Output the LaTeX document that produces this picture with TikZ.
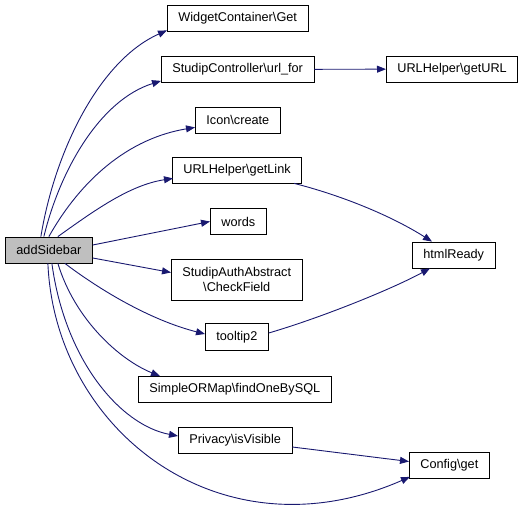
\documentclass[tikz,border=0pt]{standalone}
\usepackage{fontspec}
\setmainfont{Liberation Sans}
\usetikzlibrary{arrows.meta}
\definecolor{calledge}{HTML}{191970}
\definecolor{focus}{HTML}{BFBFBF}

\begin{document}
\begin{tikzpicture}[x=1pt,y=-1pt,>={Triangle[length=9pt,width=7pt]},
    fn/.style={draw=black,line width=0.8pt,fill=white,anchor=west,
      minimum height=26pt,inner xsep=11pt,inner ysep=0pt,
      font=\fontsize{12.7}{14.5}\selectfont,align=center},
    call/.style={->,draw=calledge,line width=0.9pt}]
  \useasboundingbox (0,0) rectangle (528,505);

  \node[fn,fill=focus] (add) at (5,250) {addSidebar};

  \node[fn] (wget) at (167,18) {WidgetContainer\textbackslash Get};
  \node[fn] (ufor) at (161,69.5) {StudipController\textbackslash url\_for};
  \node[fn] (gurl) at (386,69) {URLHelper\textbackslash getURL};
  \node[fn] (icon) at (195,120) {Icon\textbackslash create};
  \node[fn] (glink) at (172,170) {URLHelper\textbackslash getLink};
  \node[fn] (words) at (210,221.5) {words};
  \node[fn,minimum height=41pt] (check) at (171,279.5)
    {StudipAuthAbstract\\\textbackslash CheckField};
  \node[fn,minimum height=27pt] (tip) at (205,337) {tooltip2};
  \node[fn] (find) at (138,389.5) {SimpleORMap\textbackslash findOneBySQL};
  \node[fn] (priv) at (178,440) {Privacy\textbackslash isVisible};
  \node[fn] (cfg) at (409,465.5) {Config\textbackslash get};
  \node[fn] (html) at (412,255) {htmlReady};

  % addSidebar upwards
  \draw[call] ([xshift=-8pt]add.north) .. controls (55,150) and (100,60) .. ([yshift=1pt]wget.south west);
  \draw[call] ([xshift=-5pt]add.north) .. controls (60,170) and (100,100) .. ([yshift=2pt]ufor.south west);
  \draw[call] ([xshift=0pt]add.north) .. controls (75,190) and (120,140) .. ([yshift=6pt]icon.south west);
  \draw[call] ([xshift=9pt]add.north) .. controls (95,210) and (130,185) .. ([xshift=1pt,yshift=5pt]glink.south west);
  \draw[call] ([yshift=5pt]add.east) -- (words.west);
  \draw[call] ([yshift=-8pt]add.east) -- ([yshift=7pt]check.west);

  % addSidebar downwards
  \draw[call] ([xshift=16pt]add.south) .. controls (100,290) and (150,320) .. ([yshift=3pt]tip.west);
  \draw[call] ([xshift=9pt]add.south) .. controls (75,320) and (120,360) .. ([xshift=22pt]find.north west);
  \draw[call] ([xshift=3pt]add.south) .. controls (65,360) and (120,425) .. ([yshift=4pt]priv.west);
  \draw[call] ([xshift=-1pt]add.south) .. controls (55,430) and (220,560) .. ([xshift=1pt,yshift=2pt]cfg.south west);

  % second level
  \draw[call] (ufor) -- (gurl);
  \draw[call] ([xshift=-8pt]glink.south east) .. controls (340,195) and (390,215) .. ([xshift=20pt]html.north west);
  \draw[call] ([yshift=4pt]tip.east) .. controls (320,318) and (390,290) .. ([xshift=18pt]html.south west);
  \draw[call] ([yshift=-7pt]priv.east) -- ([yshift=4pt]cfg.west);
\end{tikzpicture}
\end{document}
